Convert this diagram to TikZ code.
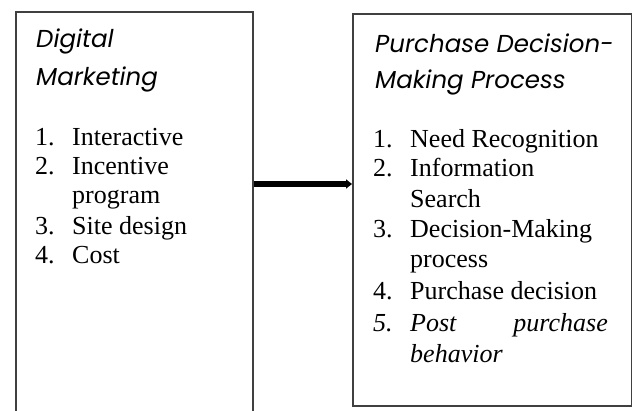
\documentclass[tikz,border=0pt]{standalone}
\usepackage{fontspec}
\setmainfont{Liberation Serif}
\newfontfamily\headfont{Poppins}
\usetikzlibrary{arrows.meta}
\definecolor{boxgray}{HTML}{404040}
\tikzset{
  frame/.style={draw=boxgray, line width=2bp, inner sep=0pt, anchor=north west},
  head/.style={anchor=base west, inner sep=0pt, font=\headfont\itshape\fontsize{24.5bp}{24.5bp}\selectfont},
  item/.style={anchor=base west, inner sep=0pt, font=\fontsize{26bp}{26bp}\selectfont},
  itemend/.style={item, anchor=base east},
  emph item/.style={font=\itshape\fontsize{26bp}{26bp}\selectfont},
  link/.style={line width=6bp, -{Triangle[length=6bp, width=9bp]}}
}
\begin{document}
\begin{tikzpicture}[x=1bp,y=-1bp]
\useasboundingbox (0,0) rectangle (632,410);
\clip (0,0) rectangle (632,410);

% the two frames; the left one runs on past the lower edge
\node[frame, minimum width=237bp, minimum height=430bp] (dm) at (15,11) {};
\node[frame, minimum width=279bp, minimum height=392bp] (pd) at (352,13) {};

% heavy link between the frames
\coordinate (row) at (300,184);
\draw[link] (dm.east |- row) -- (pd.west |- row);

% Digital Marketing
\node[head] (dmh1) at (36,47) {Digital};
\node[head] (dmh2) at (36,85) {Marketing};
\node[item] (dmn1) at (35,145) {1.};
\node[item] (dmt1) at (72,145) {Interactive};
\node[item] (dmn2) at (35,174) {2.};
\node[item] (dmt2) at (72,174) {Incentive};
\node[item] (dmt2b) at (72,203) {program};
\node[item] (dmn3) at (35,234) {3.};
\node[item] (dmt3) at (72,234) {Site design};
\node[item] (dmn4) at (35,263) {4.};
\node[item] (dmt4) at (72,263) {Cost};

% Purchase Decision-Making Process
\node[head] (pdh1) at (375,52) {Purchase Decision-};
\node[head] (pdh2) at (375,88) {Making Process};
\node[item] (pdn1) at (373,147) {1.};
\node[item] (pdt1) at (410,147) {Need Recognition};
\node[item] (pdn2) at (373,176) {2.};
\node[item] (pdt2) at (410,176) {Information};
\node[item] (pdt2b) at (410,207) {Search};
\node[item] (pdn3) at (373,237) {3.};
\node[item] (pdt3) at (410,237) {Decision-Making};
\node[item] (pdt3b) at (410,267) {process};
\node[item] (pdn4) at (373,299) {4.};
\node[item] (pdt4) at (410,299) {Purchase decision};
\node[item, emph item] (pdn5) at (373,331) {5.};
\node[item, emph item] (pdt5a) at (410,331) {Post};
\node[itemend, emph item] (pdt5b) at (608,331) {purchase};
\node[item, emph item] (pdt5c) at (410,362) {behavior};
\end{tikzpicture}
\end{document}
